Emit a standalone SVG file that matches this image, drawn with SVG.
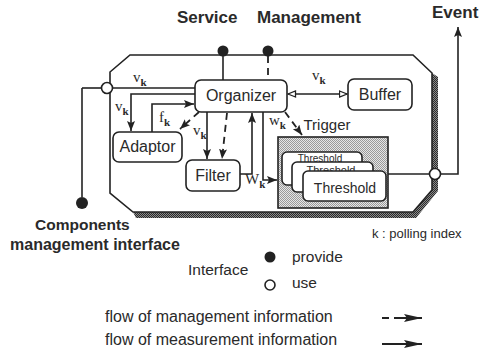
<svg xmlns="http://www.w3.org/2000/svg" width="482" height="355" viewBox="0 0 482 355">
  <defs>
    <style>
      .box { fill: #fff; stroke: #222; stroke-width: 1.6; }
      .lbl { font-family: "Liberation Sans", Arial, sans-serif; font-size: 16px; fill: #2a2a2a; text-anchor: middle; }
      .title { font-family: "Liberation Sans", Arial, sans-serif; font-size: 17px; font-weight: bold; fill: #2a2a2a; }
      .bold { font-family: "Liberation Sans", Arial, sans-serif; font-size: 15.5px; font-weight: bold; fill: #2a2a2a; }
      .leg { font-family: "Liberation Sans", Arial, sans-serif; font-size: 15.5px; fill: #2a2a2a; }
      .var { font-family: "Liberation Serif", "Times New Roman", serif; font-size: 15px; fill: #2a2a2a; }
      .sub { font-size: 11px; fill: #2a2a2a; font-weight: bold; }
      .ln { fill: none; stroke: #222; stroke-width: 1.6; }
      .dash { fill: none; stroke: #222; stroke-width: 1.8; stroke-dasharray: 7 5; }
    </style>
    <pattern id="dark" width="2" height="2" patternUnits="userSpaceOnUse">
      <rect width="2" height="2" fill="#8a8a8a"/>
      <rect width="1" height="1" fill="#2a2a2a"/>
      <rect x="1" y="1" width="1" height="1" fill="#2a2a2a"/>
    </pattern>
    <pattern id="light" width="2" height="2" patternUnits="userSpaceOnUse">
      <rect width="2" height="2" fill="#e6e6e6"/>
      <rect width="1" height="1" fill="#9a9a9a"/>
      <rect x="1" y="1" width="1" height="1" fill="#9a9a9a"/>
    </pattern>
    <marker id="arr" markerWidth="11" markerHeight="9" refX="10" refY="4" orient="auto" markerUnits="userSpaceOnUse">
      <path d="M0,0 L10,4 L0,8 L2,4 z" fill="#222"/>
    </marker>
    <marker id="open" markerWidth="10" markerHeight="9" refX="8.5" refY="4" orient="auto-start-reverse" markerUnits="userSpaceOnUse">
      <path d="M1,1 L8.5,4 L1,7 z" fill="#fff" stroke="#222" stroke-width="1.3"/>
    </marker>
    <marker id="big" markerWidth="20" markerHeight="10" refX="18" refY="4" orient="auto" markerUnits="userSpaceOnUse">
      <path d="M0,0 L18,4 L0,8 L3,4 z" fill="#222"/>
    </marker>
  </defs>

  <rect width="482" height="355" fill="#fff"/>

  <!-- top labels -->
  <text class="title" x="177" y="23">Service</text>
  <text class="title" x="257" y="23">Management</text>
  <text class="title" x="432" y="18">Event</text>

  <!-- monitoring component frame with shadow -->
  <g id="frame">
    <polygon points="432,73 438,77 438,191 416,218 136,218 133,212 413,212 432,190" fill="url(#dark)"/>
    <polygon points="130,55 413,55 432,73 432,190 413,212 133,212 110,193 110,72" fill="#fff" stroke="#222" stroke-width="1.6"/>
  </g>

  <!-- connectors -->
  <g id="connectors">
    <path class="ln" d="M223,55 V80"/>
    <path class="dash" d="M268,56 V80"/>
    <path class="ln" d="M82,88 H101"/>
    <path class="ln" d="M82,88 V197"/>
    <path class="ln" d="M113,88 H195"/>
    <path class="ln" d="M195,94 H131 V131" marker-end="url(#arr)"/>
    <path class="ln" d="M152,132 V104 H194" marker-end="url(#arr)"/>
    <path class="dash" d="M199,112 L180,129" marker-end="url(#arr)"/>
    <path class="ln" d="M207,112 V159" marker-end="url(#arr)"/>
    <path class="dash" d="M227,113 L222,159" marker-end="url(#arr)"/>
    <path class="ln" d="M240,174 H252 V113" marker-end="url(#arr)"/>
    <path class="ln" d="M263,112 V180 H277" marker-end="url(#arr)"/>
    <path class="dash" d="M285,112 L302,135" marker-end="url(#arr)"/>
    <path class="ln" d="M288,94 H347" marker-start="url(#open)" marker-end="url(#open)"/>
    <path class="ln" d="M388,174 H430"/>
    <path class="ln" d="M441,174 H458 V27" marker-end="url(#arr)"/>
  </g>

  <!-- interfaces -->
  <g id="interfaces">
    <circle cx="223" cy="51" r="5.5" fill="#222"/>
    <circle cx="268" cy="51" r="5.5" fill="#222"/>
    <circle cx="107" cy="88" r="5.5" fill="#fff" stroke="#222" stroke-width="1.6"/>
    <circle cx="435" cy="174" r="5.5" fill="#fff" stroke="#222" stroke-width="1.6"/>
    <circle cx="82" cy="203" r="6" fill="#222"/>
  </g>

  <!-- variable labels -->
  <g id="vars">
    <text class="var" x="133" y="82">v<tspan class="sub" dy="4">k</tspan></text>
    <text class="var" x="115" y="111">v<tspan class="sub" dy="4">k</tspan></text>
    <text class="var" x="159" y="122">f<tspan class="sub" dy="4">k</tspan></text>
    <text class="var" x="193" y="135">v<tspan class="sub" dy="4">k</tspan></text>
    <text class="var" x="245" y="184">W<tspan class="sub" dy="4">k</tspan></text>
    <text class="var" x="269" y="125">w<tspan class="sub" dy="4">k</tspan></text>
    <text class="var" x="312" y="80">v<tspan class="sub" dy="4">k</tspan></text>
  </g>

  <g id="organizer">
    <rect class="box" x="195" y="80" width="92" height="32" rx="6"/>
    <text class="lbl" x="241" y="101">Organizer</text>
  </g>
  <g id="buffer">
    <rect class="box" x="348" y="79" width="64" height="31" rx="6"/>
    <text class="lbl" x="380" y="100">Buffer</text>
  </g>
  <g id="adaptor">
    <rect class="box" x="113" y="132" width="69" height="30" rx="6"/>
    <text class="lbl" x="147.5" y="152">Adaptor</text>
  </g>
  <g id="filter">
    <rect class="box" x="186" y="160" width="54" height="31" rx="6"/>
    <text class="lbl" x="213" y="181">Filter</text>
  </g>
  <g id="trigger">
    <text class="lbl" x="327" y="130" style="font-size:15px">Trigger</text>
    <rect x="278" y="137" width="110" height="71" fill="url(#light)" stroke="#222" stroke-width="1.6"/>
    <rect class="box" x="282" y="152" width="80" height="33" rx="5"/>
    <text class="lbl" x="320" y="162" style="font-size:10px">Threshold</text>
    <rect class="box" x="292" y="162" width="81" height="30" rx="5"/>
    <text class="lbl" x="331" y="173.5" style="font-size:11px">Threshold</text>
    <rect class="box" x="303" y="171" width="83" height="30" rx="5"/>
    <text class="lbl" x="345" y="193" style="font-size:14px">Threshold</text>
  </g>

  <!-- legend -->
  <g id="legend">
    <text class="bold" x="35" y="230">Components</text>
    <text class="bold" x="10" y="250" style="font-size:16px">management interface</text>
    <text class="leg" x="372" y="238" style="font-size:13px">k : polling index</text>
    <text class="leg" x="188" y="275">Interface</text>
    <circle cx="270" cy="257" r="5.5" fill="#222"/>
    <text class="leg" x="292" y="262">provide</text>
    <circle cx="270" cy="285" r="5" fill="#fff" stroke="#222" stroke-width="1.6"/>
    <text class="leg" x="292" y="288">use</text>
    <text class="leg" x="105" y="322" style="font-size:16px">flow of management information</text>
    <text class="leg" x="105" y="345" style="font-size:16px">flow of measurement information</text>
    <path d="M382,318 H389 M394,318 H405" stroke="#222" stroke-width="2"/>
    <path d="M404,318 H422" stroke="#222" stroke-width="2" marker-end="url(#big)"/>
    <path d="M382,344 H422" stroke="#222" stroke-width="2.2" marker-end="url(#big)"/>
  </g>
</svg>
